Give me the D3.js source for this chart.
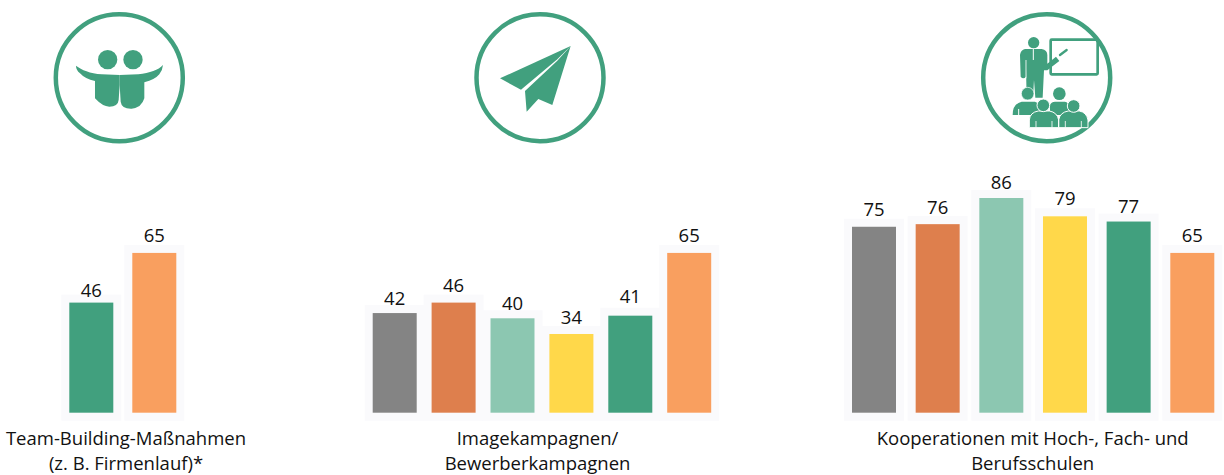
<!DOCTYPE html>
<html>
<head>
  <meta charset="utf-8">
  <script src="https://d3js.org/d3.v7.min.js"></script>
  <style>
    html, body { margin: 0; padding: 0; background: #fff; }
    svg { display: block; }
    text { font-family: "Open Sans", sans-serif; fill: #111; }
    .value { font-size: 18.5px; text-anchor: middle; }
    .caption { font-size: 18.5px; text-anchor: middle; }
    .plate { fill: #fafafc; }
    .ring { fill: none; stroke: #41a07e; stroke-width: 4.5px; }
    .glyph { fill: #41a07e; }
  </style>
</head>
<body>
  <svg class="chart" width="1224" height="475"></svg>
  <script>
    var teamCategories = ['Team-Building', 'Gesamt'];
    var teamValues = [46, 65];
    var teamColors = ['#41a07e', '#f99f5f'];
    var teamCaption = ['Team-Building-Maßnahmen', '(z. B. Firmenlauf)*'];
    var teamLift = [5.5, 11];

    var imageCategories = ['a', 'b', 'c', 'd', 'e', 'Gesamt'];
    var imageValues = [42, 46, 40, 34, 41, 65];
    var imageColors = ['#848484', '#de7f4d', '#8cc7b1', '#ffd84a', '#41a07e', '#f99f5f'];
    var imageCaption = ['Imagekampagnen/', 'Bewerberkampagnen'];
    var imageLift = [8.5, 10.5, 8.5, 10, 12.5, 11];

    var schoolCategories = ['a', 'b', 'c', 'd', 'e', 'Gesamt'];
    var schoolValues = [75, 76, 86, 79, 77, 65];
    var schoolColors = ['#848484', '#de7f4d', '#8cc7b1', '#ffd84a', '#41a07e', '#f99f5f'];
    var schoolCaption = ['Kooperationen mit Hoch-, Fach- und', 'Berufsschulen'];
    var schoolLift = [10.5, 10.5, 9, 11.5, 8.5, 10.5];

    var barWidth = 44;
    var platePad = 8;
    var baseline = 412.7;

    // bars do not start at zero in the original, the bottom is cut off at about 3.9
    var yScale = d3.scaleLinear().domain([3.9, 86]).range([baseline, 198]);

    var svg = d3.select('.chart');

    function drawPanel(categories, values, colors, lift, caption, left, right, captionX) {
      var step = (right - left - barWidth) / (categories.length - 1);
      var xScale = d3.scaleBand()
        .domain(categories)
        .range([left, right])
        .paddingInner(1 - barWidth / step)
        .paddingOuter(0);

      var g = svg.append('g');

      g.selectAll('.plate')
        .data(values)
        .enter()
        .append('rect')
        .attr('class', 'plate')
        .attr('x', function (d, i) { return xScale(categories[i]) - platePad; })
        .attr('y', function (d) { return yScale(d) - platePad; })
        .attr('width', xScale.bandwidth() + platePad * 2)
        .attr('height', function (d) { return baseline - yScale(d) + platePad * 2; });

      g.selectAll('.bar')
        .data(values)
        .enter()
        .append('rect')
        .attr('class', 'bar')
        .attr('x', function (d, i) { return xScale(categories[i]); })
        .attr('y', function (d) { return yScale(d); })
        .attr('width', xScale.bandwidth())
        .attr('height', function (d) { return baseline - yScale(d); })
        .style('fill', function (d, i) { return colors[i]; });

      g.selectAll('.value')
        .data(values)
        .enter()
        .append('text')
        .attr('class', 'value')
        .attr('x', function (d, i) { return xScale(categories[i]) + xScale.bandwidth() / 2; })
        .attr('y', function (d, i) { return yScale(d) - lift[i]; })
        .text(function (d) { return d; });

      g.selectAll('.caption')
        .data(caption)
        .enter()
        .append('text')
        .attr('class', 'caption')
        .attr('x', captionX)
        .attr('y', function (d, i) { return 444.5 + i * 25.5; })
        .text(function (d) { return d; });
    }

    drawPanel(teamCategories, teamValues, teamColors, teamLift, teamCaption, 69.3, 176.3, 126);
    drawPanel(imageCategories, imageValues, imageColors, imageLift, imageCaption, 372.7, 711.2, 537.5);
    drawPanel(schoolCategories, schoolValues, schoolColors, schoolLift, schoolCaption, 852, 1214.3, 1032.7);

    /* icons are traced in the coordinates of a 3x crop, hence the scale */
    function icon(originX, centerX) {
      svg.append('circle')
        .attr('class', 'ring')
        .attr('cx', centerX)
        .attr('cy', 77.7)
        .attr('r', 63.5);
      return svg.append('g')
        .attr('transform', 'translate(' + originX + ',5) scale(0.3333)');
    }

    var people = icon(40, 119.3);
    people.append('circle').attr('class', 'glyph').attr('cx', 203).attr('cy', 164).attr('r', 29);
    people.append('circle').attr('class', 'glyph').attr('cx', 279).attr('cy', 164).attr('r', 29);
    people.append('path').attr('class', 'glyph')
      .attr('d', 'M108,182 C125,195 150,205 185,208 L239,210 L239,240 L236,285 Q234,305 208,305 Q188,305 165,280 L165,228 Q135,222 120,205 Q108,195 108,182Z');
    people.append('path').attr('class', 'glyph')
      .attr('d', 'M369,180 C355,195 330,204 295,208 L239,210 L239,240 L242,290 Q245,312 275,311 Q305,308 313,280 L313,232 Q345,224 358,208 Q368,195 369,180Z');

    var plane = icon(460, 540);
    plane.append('path').attr('class', 'glyph').attr('d', 'M332,123 L120,220 L183,254 L292,163Z');
    plane.append('path').attr('class', 'glyph').attr('d', 'M332,123 L277,300 L235,282 L200,320 L195,258 L292,167Z');

    var teacher = icon(970, 1046.7);
    teacher.append('circle').attr('class', 'glyph').attr('cx', 191).attr('cy', 113).attr('r', 17);
    teacher.append('path').attr('class', 'glyph')
      .attr('d', 'M165,132 L215,132 Q232,135 232,150 L232,176 L258,155 L268,168 L232,196 L222,196 L218,278 L196,278 L192,225 L189,278 L170,278 L168,190 L168,215 Q160,224 152,215 L150,150 Q152,135 165,132Z');
    teacher.append('path').attr('d', 'M190,132 L190,165').style('stroke', '#fff').style('stroke-width', 3);
    teacher.append('path').attr('d', 'M168,165 L168,220').style('stroke', '#fff').style('stroke-width', 2.5);
    teacher.append('rect')
      .attr('x', 242).attr('y', 104).attr('width', 141).attr('height', 104).attr('rx', 3)
      .style('fill', 'none').style('stroke', '#41a07e').style('stroke-width', 8);
    teacher.append('path').attr('d', 'M270,150 L290,135')
      .style('stroke', '#41a07e').style('stroke-width', 7).style('stroke-linecap', 'round');

    // back row first, the front row gets a white edge so the two read apart
    var backRow = 'M128,330 Q128,296 155,290 L195,290 Q215,296 215,330Z M240,300 Q245,290 255,290 L285,290 Q295,292 298,305 L298,330 L240,330Z';
    var frontRow = 'M178,368 L178,345 Q180,322 205,318 L238,318 Q262,322 266,345 L266,368Z M266,368 L266,345 Q270,322 295,318 L328,318 Q350,322 354,345 L354,368Z';
    teacher.append('path').attr('class', 'glyph').attr('d', backRow);
    teacher.append('circle').attr('class', 'glyph').attr('cx', 173).attr('cy', 266).attr('r', 19)
      .style('stroke', '#fff').style('stroke-width', 2);
    teacher.append('circle').attr('class', 'glyph').attr('cx', 268).attr('cy', 266).attr('r', 19);
    teacher.append('path').attr('d', 'M146,332 L146,312')
      .style('stroke', '#fff').style('stroke-width', 3).style('fill', 'none');
    teacher.append('path').attr('class', 'glyph').attr('d', frontRow)
      .style('stroke', '#fff').style('stroke-width', 3);
    teacher.append('path').attr('d', 'M198,368 L198,348 M246,368 L246,348 M286,368 L286,348 M334,368 L334,348')
      .style('stroke', '#fff').style('stroke-width', 2.5).style('fill', 'none');
    teacher.append('circle').attr('class', 'glyph').attr('cx', 220).attr('cy', 301).attr('r', 19)
      .style('stroke', '#fff').style('stroke-width', 3);
    teacher.append('circle').attr('class', 'glyph').attr('cx', 311).attr('cy', 303).attr('r', 19)
      .style('stroke', '#fff').style('stroke-width', 3);
  </script>
</body>
</html>
